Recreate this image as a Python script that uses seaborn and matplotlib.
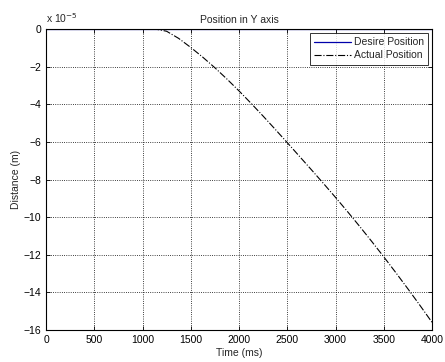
import matplotlib
matplotlib.use("Agg")
import matplotlib.pyplot as plt
import seaborn as sns
import pandas as pd

time_ms = [0, 500, 1000, 1130, 1250, 1375, 1500, 1625, 1750, 1875, 2000, 2125, 2250, 2375, 2500,
           2625, 2750, 2875, 3000, 3125, 3250, 3375, 3500, 3625, 3750, 3875, 4000]
desired = [0] * 27
actual = [0, 0, 0, 0, -0.12, -0.5, -0.98, -1.5, -2.06, -2.66, -3.29, -3.95, -4.63, -5.33, -6.04,
          -6.76, -7.48, -8.21, -8.95, -9.71, -10.49, -11.29, -12.11, -12.95, -13.81, -14.69, -15.59]

sns.set_style("white")
plt.rcParams['font.family'] = ['Liberation Sans', 'DejaVu Sans']
plt.rcParams['font.size'] = 7.5

fig = plt.figure(figsize=(4.45, 3.62), dpi=100)
ax = fig.add_axes([46/445, 1 - 330/362, (432-46)/445, (330-29)/362])

df_d = pd.DataFrame({"t": time_ms, "v": desired})
df_a = pd.DataFrame({"t": time_ms, "v": actual})
sns.lineplot(data=df_d, x="t", y="v", ax=ax, color="#0000aa", lw=0.9, label="Desire Position")
sns.lineplot(data=df_a, x="t", y="v", ax=ax, color="black", lw=0.8, linestyle="-.", label="Actual Position")

ax.set_xlim(0, 4000)
ax.set_ylim(-16, 0)
ax.set_xticks(range(0, 4001, 500))
ax.set_yticks(range(-16, 1, 2))
ax.grid(True, color="black", linestyle=":", linewidth=0.6)
ax.tick_params(direction="in", length=3, width=0.6, labelsize=7.5, colors="black", top=True, right=True, bottom=True, left=True)
for s in ax.spines.values():
    s.set_color("black")
    s.set_linewidth(0.8)
    s.set_visible(True)
ax.set_xlabel("Time (ms)", fontsize=7.5, labelpad=2)
ax.set_ylabel("Distance (m)", fontsize=7.5, labelpad=2)
ax.set_title("Position in Y axis", fontsize=7.5, pad=4)
ax.text(0.0, 1.012, r"x 10$^{-5}$", transform=ax.transAxes, fontsize=7.5, ha="left", va="bottom")

leg = ax.legend(loc="upper right", frameon=True, fancybox=False, fontsize=7.5,
                handlelength=3.5, borderpad=0.4, labelspacing=0.3, handletextpad=0.3,
                borderaxespad=0.4)
leg.get_frame().set_edgecolor("black")
leg.get_frame().set_linewidth(0.7)
fig.savefig("out.png", dpi=100)
